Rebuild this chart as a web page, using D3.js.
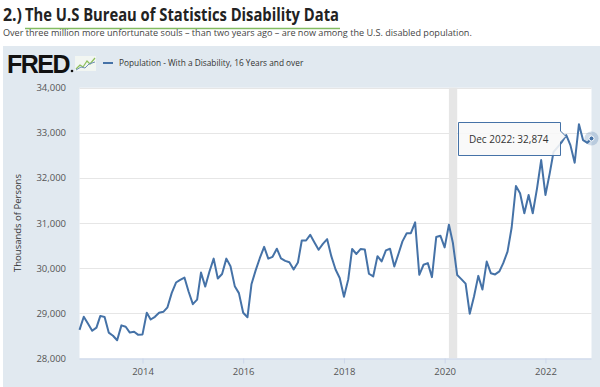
<!DOCTYPE html>
<html>
<head>
<meta charset="utf-8">
<script src="https://cdn.jsdelivr.net/npm/d3@7"></script>
<style>
  html, body { margin: 0; padding: 0; background: #fff; }
  svg { display: block; font-family: "Open Sans", "Liberation Sans", sans-serif; }
</style>
</head>
<body>
<div id="chart"></div>
<script>
// monthly values, Oct 2012 .. Dec 2022 (thousands of persons)
var startMonth = '2012-10';
var seriesName = 'Population - With a Disability, 16 Years and over';
var values = [
  28630, 28920, 28770,
  28610, 28680, 28940, 28915, 28570, 28500, 28400, 28730, 28700, 28570, 28590, 28520,
  28530, 29010, 28860, 28920, 29010, 29030, 29130, 29450, 29680, 29740, 29790, 29480,
  29200, 29300, 29900, 29590, 29920, 30210, 29770, 29870, 30210, 30040, 29600, 29445,
  29010, 28910, 29640, 29955, 30225, 30470, 30210, 30250, 30430, 30215, 30160, 30130,
  29970, 30125, 30612, 30612, 30738, 30568, 30406, 30538, 30642, 30265, 29970, 29780,
  29365, 29750, 30423, 30313, 30423, 30413, 29875, 29815, 30265, 30147, 30392, 30428,
  30036, 30324, 30592, 30774, 30774, 31015, 29852, 30074, 30111, 29800, 30689, 30718,
  30459, 30963, 30556, 29845, 29756, 29655, 28990, 29370, 29828, 29524, 30145, 29887,
  29860, 29926, 30110, 30366, 30900, 31820, 31658, 31216, 31621, 31216, 31768, 32395,
  31621, 32100, 32579, 32690, 32800, 32948, 32727, 32336, 33191, 32837, 32778, 32874
];
var yTicks = [28000, 29000, 30000, 31000, 32000, 33000, 34000];
var xTickYears = [2014, 2016, 2018, 2020, 2022];
var recession = ['2020-02', '2020-04'];

var width = 600, height = 387;
var parse = d3.timeParse('%Y-%m');
var t0 = parse(startMonth);
var data = values.map(function(v, i) {
  return { date: d3.timeMonth.offset(t0, i), value: v };
});

var svg = d3.select('#chart').append('svg')
  .attr('width', width).attr('height', height);

// title + subtitle (number and linked heading drawn separately)
svg.append('text')
  .attr('x', 3).attr('y', 21)
  .attr('textLength', 19).attr('lengthAdjust', 'spacingAndGlyphs')
  .style('font-size', '18px').style('font-weight', 700).attr('fill', '#222')
  .text('2.)');
svg.append('text')
  .attr('x', 25).attr('y', 21)
  .attr('textLength', 314).attr('lengthAdjust', 'spacingAndGlyphs')
  .style('font-size', '18px').style('font-weight', 700).attr('fill', '#222')
  .text('The U.S Bureau of Statistics Disability Data');
svg.append('line')
  .attr('x1', 25).attr('x2', 340).attr('y1', 28.5).attr('y2', 28.5)
  .attr('stroke', '#82bb62').attr('stroke-width', 1.5);

svg.append('text')
  .attr('x', 3).attr('y', 36)
  .style('font-size', '9.1px').attr('fill', '#444')
  .text('Over three million more unfortunate souls \u2013 than two years ago \u2013 are now among the U.S. disabled population.');

// FRED panel
svg.append('rect')
  .attr('x', 3).attr('y', 46).attr('width', width - 3).attr('height', height - 46)
  .attr('fill', '#e1e9f0');

svg.append('text')
  .attr('x', 7).attr('y', 73)
  .style('font-family', '"Liberation Sans", Arial, sans-serif')
  .style('font-size', '25px').style('font-weight', 700)
  .style('letter-spacing', '-1.5px')
  .attr('fill', '#111')
  .text('FRED');
svg.append('circle').attr('cx', 72).attr('cy', 71).attr('r', 1.3).attr('fill', '#111');
// small chart icon
var icon = svg.append('g').attr('transform', 'translate(75,56)');
icon.append('rect').attr('width', 21).attr('height', 15).attr('fill', '#f2f6f2');
icon.append('path').attr('d', 'M1,13 L5,9 L8,11 L12,5 L15,8 L20,2')
  .attr('fill', 'none').attr('stroke', '#8cbf5a').attr('stroke-width', 1.2);
icon.append('path').attr('d', 'M1,14 L6,11 L10,12 L14,8 L20,6')
  .attr('fill', 'none').attr('stroke', '#6f8fb5').attr('stroke-width', 1);

svg.append('line')
  .attr('x1', 103).attr('x2', 113).attr('y1', 63).attr('y2', 63)
  .attr('stroke', '#4572a7').attr('stroke-width', 2);
svg.append('text')
  .attr('x', 119).attr('y', 66)
  .style('font-size', '8.3px').attr('fill', '#333')
  .text(seriesName);

// plot area
var x = d3.scaleTime()
  .domain([data[0].date, data[data.length - 1].date])
  .range([79.5, 591.5]);
var y = d3.scaleLinear()
  .domain([28000, 34000])
  .range([358.3, 87.7]);

svg.append('rect')
  .attr('x', 79.5).attr('y', 87.7)
  .attr('width', 591.5 - 79.5).attr('height', 358.3 - 87.7)
  .attr('fill', '#fff');

// recession shading
svg.append('rect')
  .attr('x', x(parse(recession[0])))
  .attr('y', 87.7)
  .attr('width', x(parse(recession[1])) - x(parse(recession[0])))
  .attr('height', 358.3 - 87.7)
  .attr('fill', '#e6e6e6');

// grid
svg.append('g').selectAll('line')
  .data(yTicks.slice(1)).enter().append('line')
  .attr('x1', 79.5).attr('x2', 591.5)
  .attr('y1', function(d) { return Math.round(y(d)) + 0.5; })
  .attr('y2', function(d) { return Math.round(y(d)) + 0.5; })
  .attr('stroke', '#e6e6e6').attr('stroke-width', 1);

// y axis labels
var yAxis = d3.axisLeft(y).tickValues(yTicks).tickSize(0).tickPadding(0)
  .tickFormat(d3.format(','));
var gy = svg.append('g').attr('transform', 'translate(66,0)').call(yAxis);
gy.select('.domain').remove();
gy.selectAll('text')
  .style('font-size', '9.5px').style('font-family', '"Open Sans", sans-serif')
  .attr('fill', '#555');

svg.append('text')
  .attr('transform', 'translate(21,' + ((87.7 + 358.3) / 2) + ') rotate(-90)')
  .attr('text-anchor', 'middle')
  .style('font-size', '9.5px').attr('fill', '#333')
  .text('Thousands of Persons');

// x axis
var xAxis = d3.axisBottom(x)
  .tickValues(xTickYears.map(function(yr) { return new Date(yr, 0, 1); }))
  .tickFormat(d3.timeFormat('%Y'))
  .tickSize(5).tickPadding(5);
var gx = svg.append('g').attr('transform', 'translate(0,358.5)').call(xAxis);
gx.select('.domain').attr('stroke', '#ccd6eb').attr('d', 'M79.5,0.5H591.5');
gx.selectAll('line').attr('stroke', '#ccd6eb');
gx.selectAll('text')
  .style('font-size', '9.5px').style('font-family', '"Open Sans", sans-serif')
  .attr('fill', '#555');

// series line
var line = d3.line()
  .x(function(d) { return x(d.date); })
  .y(function(d) { return y(d.value); });
svg.append('path')
  .datum(data)
  .attr('d', line)
  .attr('fill', 'none')
  .attr('stroke', '#4572a7')
  .attr('stroke-width', 2)
  .attr('stroke-linejoin', 'round');

// hover marker on last point
var last = data[data.length - 1];
svg.append('circle')
  .attr('cx', x(last.date)).attr('cy', y(last.value)).attr('r', 7)
  .attr('fill', '#4572a7').attr('fill-opacity', 0.25);
svg.append('circle')
  .attr('cx', x(last.date)).attr('cy', y(last.value)).attr('r', 2.5)
  .attr('fill', '#4572a7').attr('stroke', '#fff').attr('stroke-width', 1);

// tooltip
var tip = svg.append('g');
tip.append('path')
  .attr('d', 'M458.5,122.5 H560.5 V131 L566,136.5 L560.5,142 V155.5 H458.5 Z')
  .attr('fill', '#f8f8f8').attr('fill-opacity', 0.88)
  .attr('stroke', '#4572a7').attr('stroke-width', 1);
var tt = tip.append('text')
  .attr('x', 469).attr('y', 143)
  .style('font-size', '10px').attr('fill', '#333');
tt.append('tspan').text(d3.timeFormat('%b %Y')(last.date) + ': ');
tt.append('tspan').text(d3.format(',')(last.value));
</script>
</body>
</html>
